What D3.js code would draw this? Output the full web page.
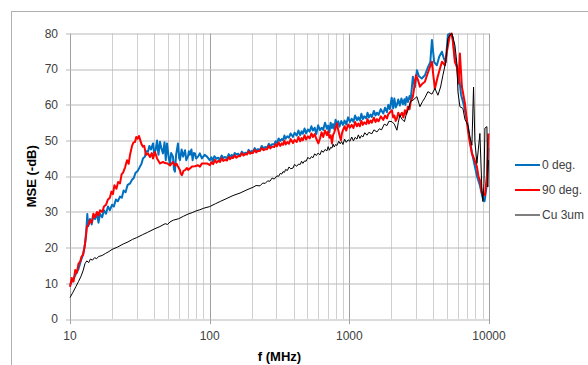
<!DOCTYPE html>
<html>
<head>
<meta charset="utf-8">
<script src="https://cdn.jsdelivr.net/npm/d3@7"></script>
<style>
	body { margin: 0; background: #fff; }
	svg { display: block; font-family: "Liberation Sans", Arial, sans-serif; }
</style>
</head>
<body>
<svg id="chart" width="588" height="365"></svg>
<script>
// tick labels
const xTicks = [10, 100, 1000, 10000]
const yTicks = [0, 10, 20, 30, 40, 50, 60, 70, 80]

// [f (MHz), MSE (-dB)]
const deg0 = [
	[10, 9.5], [10.5, 11], [11, 12.5], [11.5, 14], [12, 16.5], [12.4, 18], [12.8, 21], [13.1, 25], [13.3, 29.4],
	[13.5, 26], [13.9, 28], [14.3, 26.5], [14.7, 29], [15.1, 28], [15.6, 29.5], [16, 27], [16.4, 29.5], [17, 28.5],
	[17.5, 30.5], [18.1, 29.5], [18.7, 31.5], [19.3, 30.5], [20, 32], [20.6, 31.5], [21.3, 33.5], [22, 33], [22.8, 34.3],
	[23.5, 34], [24.2, 36], [25, 35.5], [25.8, 37.5], [26.9, 38], [27.8, 39], [28.6, 39.5], [29.5, 41], [30.5, 41.5],
	[31.7, 42.7], [32.5, 43.5], [33.3, 45], [34.4, 45.5], [35, 47], [36.2, 46.9], [37, 48.5], [38, 47.5], [39.3, 49.2],
	[40, 46.5], [41, 47.3], [42, 50], [43, 46], [44.1, 49.7], [45, 48], [46.3, 46.4], [47.5, 49.5], [48.5, 44.5],
	[49.5, 49.2], [51, 45], [52, 43.6], [53, 46.5], [54.6, 45.5], [55.5, 42], [56.4, 41.3], [57.5, 46], [59.3, 49.2],
	[60.5, 45], [61.3, 44.5], [63, 47.5], [64.5, 45.5], [66.6, 47.3], [68, 44.5], [69.9, 45.5], [71, 47], [72.3, 46],
	[74, 47.5], [75.5, 44.5], [77, 46.5], [78.5, 46.4], [80, 45], [82.5, 45.5], [85, 46.4], [88, 45], [92, 46],
	[95.7, 45.5], [100, 44.5], [103, 45.3], [105, 44.2], [108, 45.6], [112, 44.9], [115, 45.2], [118, 44.6], [122, 45.8],
	[125, 45.1], [129, 45.4], [133, 45], [137, 46.2], [140, 45.5], [144, 46], [147, 45.3], [151, 46.5], [155, 46.1],
	[160, 46.3], [165, 45.7], [170, 46.9], [175, 46.2], [180, 46.6], [185, 46.3], [190, 47.4], [195, 46.7], [200, 47.1],
	[204, 46.8], [210, 47.9], [215, 47.2], [222, 47.6], [229, 47.4], [236, 48.5], [243, 47.8], [250, 48.2], [258, 48],
	[265, 49.1], [272, 48.4], [280, 49], [290, 48.9], [297, 49.8], [303, 49.3], [312, 50.6], [320, 49.9], [328, 50.4],
	[335, 50.1], [343, 51.4], [350, 50.5], [360, 51.2], [370, 50.8], [380, 52], [395, 51], [405, 52.2], [420, 51.4],
	[432, 52.8], [445, 51.5], [455, 52.6], [465, 51.9], [478, 53.4], [490, 52], [505, 53.1], [520, 52.5], [535, 54],
	[549, 52.8], [565, 53.6], [580, 51.8], [598, 54.3], [616, 52.9], [633, 53.6], [650, 53], [670, 55], [691, 53.3],
	[705, 54.2], [720, 52.3], [735, 55], [751, 53.5], [765, 54.6], [780, 53.2], [797, 55.8], [815, 54.3], [832, 55.4],
	[850, 53.9], [875, 55.5], [900, 54.4], [925, 55.6], [950, 54.5], [980, 56.5], [1010, 55.2], [1040, 56.1],
	[1070, 55.3], [1100, 57], [1134, 55.7], [1160, 56.5], [1190, 55.6], [1220, 57.5], [1251, 56], [1280, 56.8],
	[1320, 56.2], [1350, 57.8], [1380, 56.5], [1420, 57.3], [1450, 56.6], [1500, 58.3], [1540, 57], [1576, 57.8],
	[1620, 57.2], [1680, 58.8], [1750, 57.6], [1800, 59.2], [1859, 58], [1900, 60], [1950, 58.8], [2010, 62],
	[2060, 59], [2100, 61.8], [2150, 59.3], [2191, 60], [2240, 61.5], [2300, 59.8], [2360, 61.8], [2420, 60.2],
	[2480, 61.6], [2520, 60], [2570, 62.2], [2627, 60.8], [2700, 62.5], [2750, 61.5], [2852, 67.9], [2950, 65],
	[3047, 69.7], [3150, 68], [3300, 67.4], [3477, 68.3], [3650, 70.5], [3800, 72], [3903, 78.2], [4050, 72],
	[4236, 71.1], [4400, 73.5], [4602, 74.9], [4750, 73], [4900, 72], [5078, 79.6], [5250, 80], [5500, 79],
	[5700, 73], [5900, 70.5], [6100, 68], [6300, 63], [6600, 60], [7000, 55], [7300, 50], [7600, 46], [7900, 43],
	[8200, 40], [8600, 37.5], [9000, 34], [9300, 33], [9600, 37], [9900, 48]
]

const deg90 = [
	[10, 9], [10.3, 11.5], [10.6, 10.5], [10.9, 13.7], [11.2, 13], [11.5, 15.5], [11.8, 16], [12.1, 17.5], [12.4, 18],
	[12.7, 20], [13, 23], [13.2, 25.8], [13.6, 26.5], [13.9, 27.7], [14.3, 27], [14.7, 29.5], [15.1, 28.5], [15.6, 30],
	[16, 29], [16.4, 30.5], [17, 30], [17.5, 31.5], [18.1, 32], [18.7, 33.5], [19.3, 34], [19.8, 35.7], [20.3, 35],
	[20.8, 37.5], [21.5, 36.5], [22.1, 38.4], [22.8, 38], [23.4, 40.5], [24, 41], [24.8, 42.5], [25.6, 44.5],
	[26.3, 43.5], [26.9, 46], [27.8, 48.5], [28.5, 49.5], [29.2, 49.6], [29.8, 51], [30.5, 50.5], [31.2, 51.3],
	[31.7, 50.4], [32.5, 49], [33.3, 48.3], [34, 48.5], [35, 46], [36.2, 46.4], [37.4, 45.4], [38.5, 46.5], [39.3, 45],
	[40.6, 46.8], [42, 45], [44.1, 43.6], [46.3, 44], [47.9, 43.7], [50, 43.6], [52, 43], [54.6, 44], [56.4, 43],
	[58, 43.5], [59.3, 42.7], [61.3, 41.7], [62, 40.8], [63.3, 40.3], [65, 41.5], [66.6, 41.7], [68.8, 42.3], [70, 41.8],
	[72.3, 42.2], [74.7, 42.7], [78.5, 42.8], [82.5, 43.1], [85.2, 42.7], [88.1, 43.6], [95.7, 43.6], [100.5, 43.1],
	[103, 43.9], [106, 43.4], [109, 44.6], [112, 43.8], [115, 44.3], [118.5, 44], [122, 45.1], [125, 44.3], [129, 44.6],
	[133, 44.4], [137, 45.4], [140, 44.8], [144, 45.3], [147, 45.1], [151, 45.9], [155, 45.2], [160, 45.7], [165, 45.6],
	[170, 46.5], [175, 45.8], [180, 46.2], [185, 46.1], [190, 47], [195, 46.3], [200, 46.6], [204, 46.5], [210, 47.4],
	[215, 46.7], [222, 47.1], [229, 47.1], [236, 47.9], [243, 47.3], [250, 47.6], [258, 47.6], [265, 48.5], [272, 47.8],
	[280, 48.3], [290, 48.2], [297, 49], [303, 48.4], [312, 49.5], [320, 48.5], [328, 49.2], [335, 48.8], [343, 50],
	[350, 48.9], [360, 49.6], [370, 49.1], [380, 50.4], [395, 49.3], [405, 50.2], [420, 49.6], [432, 51], [445, 49.8],
	[455, 50.7], [465, 50.1], [478, 51.5], [490, 50.3], [505, 51.2], [520, 50.6], [535, 52], [549, 51], [565, 51.8],
	[580, 50.5], [600, 49.2], [616, 50.5], [633, 52.3], [650, 51], [670, 52.8], [691, 51.5], [705, 52.6], [720, 50.8],
	[735, 51.5], [751, 49.2], [765, 51.5], [780, 52.3], [797, 53.5], [815, 54.8], [832, 53], [850, 51.5], [870, 50.1],
	[885, 52], [900, 52.9], [925, 54], [950, 52.8], [980, 54.5], [1010, 53.6], [1040, 54.4], [1070, 53.5], [1100, 55.2],
	[1134, 54], [1160, 54.8], [1190, 54], [1220, 55.5], [1251, 54.4], [1280, 55.1], [1320, 54.6], [1350, 56],
	[1380, 54.8], [1420, 55.6], [1450, 55], [1500, 56.4], [1540, 55.2], [1576, 56], [1620, 55.4], [1680, 56.8],
	[1750, 55.8], [1800, 57], [1859, 56.2], [1900, 57.4], [2018, 58.5], [2060, 56.5], [2100, 57], [2150, 55.5],
	[2191, 56.2], [2240, 57.8], [2300, 56.8], [2380, 57.8], [2440, 56.5], [2500, 58.5], [2560, 57.5], [2627, 59.5],
	[2700, 58.8], [2750, 60.9], [2852, 62.3], [3000, 68.3], [3100, 67], [3202, 65.1], [3350, 66], [3477, 66.5],
	[3650, 69], [3903, 72.1], [4000, 68], [4101, 64.6], [4300, 68], [4602, 72.1], [4833, 71.1], [5000, 75],
	[5250, 79.6], [5400, 80], [5514, 77.7], [5700, 72], [5891, 70.7], [6050, 66], [6190, 74.4], [6400, 65],
	[6723, 60.5], [7063, 53], [7300, 49.3], [7543, 46.4], [7800, 45], [8195, 42.7], [8400, 40], [8607, 38.9],
	[8897, 35.3], [9348, 34.7], [9662, 39.9], [9901, 52]
]

const cu3um = [
	[10, 6], [10.5, 7.5], [11, 9], [11.5, 10.5], [12, 12], [12.4, 13.5], [12.8, 15.5], [13.2, 16.3], [13.6, 15.8],
	[14, 16.8], [14.5, 16.5], [15, 17.2], [15.5, 16.9], [16, 17.5], [17, 17.8], [18, 18.4], [19, 18.9], [20, 19.5],
	[22, 20.2], [24, 21], [26, 21.6], [28, 22.3], [30, 22.8], [33, 23.6], [36, 24.3], [40, 25.2], [44, 25.9],
	[48, 26.7], [50, 26.5], [52, 27.2], [55, 27.7], [60, 28.1], [65, 28.8], [70, 29.4], [75, 29.8], [80, 30.3],
	[85, 30.6], [90, 31], [100, 31.5], [110, 32.3], [120, 33], [133, 33.8], [147, 34.6], [165, 35.3], [185, 36.2],
	[204, 36.9], [215, 37.4], [229, 37.3], [240, 38.1], [250, 38], [260, 38.7], [270, 38.6], [280, 39.5], [290, 39.2],
	[303, 40.1], [312, 40], [320, 40.8], [328, 40.6], [335, 41.3], [343, 41.1], [350, 41.9], [360, 41.6], [370, 42.6],
	[380, 42.1], [395, 42.3], [405, 43.3], [420, 42.8], [432, 43.4], [445, 43.3], [455, 44.2], [465, 43.6], [478, 44.3],
	[490, 44.2], [505, 45.3], [520, 44.8], [535, 45.5], [549, 45.2], [565, 46.3], [580, 45.8], [598, 46.5], [616, 46],
	[633, 47.2], [650, 46.7], [670, 47.5], [691, 47.1], [705, 48.3], [720, 47.3], [735, 48.1], [751, 47.9], [765, 49],
	[780, 48.2], [797, 48.9], [815, 48.6], [840, 49.8], [860, 49.1], [880, 49.7], [900, 48.9], [925, 50.4], [950, 49.5],
	[980, 50.2], [1010, 49.8], [1040, 51], [1070, 49.9], [1100, 50.9], [1134, 50.4], [1160, 51.6], [1190, 50.6],
	[1220, 51.4], [1251, 51], [1290, 52.2], [1337, 51.5], [1380, 52.3], [1450, 51.9], [1500, 53], [1576, 52.4],
	[1640, 53.3], [1700, 53], [1780, 54.6], [1859, 54.2], [1920, 55.4], [2018, 55.3], [2100, 54.6], [2191, 52.9],
	[2240, 55], [2300, 57.1], [2380, 56], [2480, 55.3], [2560, 57.5], [2627, 58.5], [2750, 61], [2852, 61.3],
	[3047, 62.3], [3202, 59.5], [3350, 61], [3477, 62], [3653, 63.7], [3903, 63], [4101, 64.6], [4307, 62.7],
	[4500, 65], [4677, 68.3], [4900, 72], [5078, 78.6], [5250, 79.6], [5425, 80], [5702, 76.7], [5891, 71.6],
	[5991, 63.7], [6190, 59.5], [6505, 59], [6723, 56], [7063, 54.3], [7300, 51], [7543, 48.7], [7750, 65],
	[7927, 49.7], [8195, 43.6], [8607, 52], [8897, 36], [9045, 32.9], [9200, 38], [9348, 53.5], [9662, 53.9],
	[9800, 37], [9901, 44.5]
]

const seriesNames = ["0 deg.", "90 deg.", "Cu 3um"]
const seriesColors = ["#0070c0", "#ff0000", "#000000"]

const series = [
	{ name: seriesNames[0], color: seriesColors[0], width: 2, data: deg0 },
	{ name: seriesNames[1], color: seriesColors[1], width: 2, data: deg90 },
	{ name: seriesNames[2], color: seriesColors[2], width: 1, data: cu3um },
]

const width = 588, height = 365
const margin = { top: 33.5, right: 99, bottom: 46, left: 70 }
const plotWidth = width - margin.left - margin.right
const plotHeight = height - margin.top - margin.bottom

const svg = d3.select("#chart")

// chart area border
svg.append("rect")
	.attr("x", 11.5).attr("y", 11.5)
	.attr("width", 600).attr("height", 400)
	.attr("fill", "#fff")
	.attr("stroke", "#b0b0b0")

const plot = svg.append("g")
	.attr("transform", "translate(" + margin.left + "," + margin.top + ")")

const x = d3.scaleLog().domain([10, 10000]).range([0, plotWidth])
const y = d3.scaleLinear().domain([0, 80]).range([plotHeight, 0])

// minor + major vertical gridlines
const minor = []
for (let d = 10; d < 10000; d *= 10)
	for (let k = 2; k <= 9; k++) minor.push(d * k)

plot.append("g").selectAll("line").data(minor).join("line")
	.attr("x1", d => Math.round(x(d)) + 0.5).attr("x2", d => Math.round(x(d)) + 0.5)
	.attr("y1", 0).attr("y2", plotHeight)
	.attr("stroke", "#d0d0d0")

plot.append("g").selectAll("line").data(xTicks).join("line")
	.attr("x1", d => Math.round(x(d)) + 0.5).attr("x2", d => Math.round(x(d)) + 0.5)
	.attr("y1", 0).attr("y2", plotHeight + 5)
	.attr("stroke", "#a0a0a0")

plot.append("g").selectAll("line").data(yTicks).join("line")
	.attr("x1", -4).attr("x2", plotWidth)
	.attr("y1", d => Math.round(y(d)) + 0.5).attr("y2", d => Math.round(y(d)) + 0.5)
	.attr("stroke", "#b8b8b8")

// tick labels
plot.append("g").selectAll("text").data(yTicks).join("text")
	.attr("x", -12).attr("y", d => y(d))
	.attr("dy", "0.35em")
	.attr("text-anchor", "end")
	.attr("font-size", 12).attr("fill", "#404040")
	.text(d => d)

plot.append("g").selectAll("text").data(xTicks).join("text")
	.attr("x", d => x(d)).attr("y", plotHeight + 21)
	.attr("text-anchor", "middle")
	.attr("font-size", 12).attr("fill", "#404040")
	.text(d => d)

// axis titles
svg.append("text")
	.attr("transform", "translate(36," + (margin.top + plotHeight / 2) + ") rotate(-90)")
	.attr("text-anchor", "middle")
	.attr("font-size", 13).attr("font-weight", "bold")
	.text("MSE (-dB)")

svg.append("text")
	.attr("x", margin.left + plotWidth / 2).attr("y", 361)
	.attr("text-anchor", "middle")
	.attr("font-size", 13).attr("font-weight", "bold")
	.text("f (MHz)")

// lines
const line = d3.line()
	.x(d => x(d[0]))
	.y(d => y(d[1]))

plot.append("g").selectAll("path").data(series).join("path")
	.attr("fill", "none")
	.attr("stroke", d => d.color)
	.attr("stroke-width", d => d.width)
	.attr("stroke-linejoin", "round")
	.attr("d", d => line(d.data))

// legend
const legend = svg.append("g")
	.attr("transform", "translate(515,165)")
const item = legend.selectAll("g").data(series).join("g")
	.attr("transform", (d, i) => "translate(0," + i * 25 + ")")
item.append("line")
	.attr("x1", 0).attr("x2", 25)
	.attr("stroke", d => d.color)
	.attr("stroke-width", d => d.width)
item.append("text")
	.attr("x", 27).attr("dy", "0.35em")
	.attr("font-size", 12).attr("fill", "#404040")
	.text(d => d.name)
</script>
</body>
</html>
